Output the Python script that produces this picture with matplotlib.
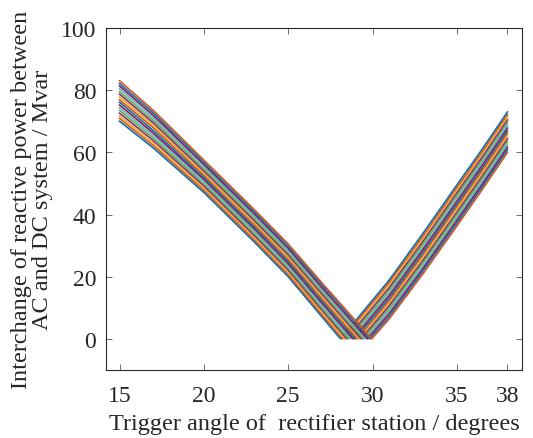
import matplotlib.pyplot as plt

# trigger angles (degrees) where the curves were read
down_angles = [15, 17, 20, 23, 25, 27]
up_angles = [31, 33, 35, 36.5, 38]

# angle where each curve reaches zero
zero_angle = [28.10, 28.22, 28.35, 28.47, 28.59, 28.72, 28.84, 28.96,
              29.09, 29.21, 29.33, 29.46, 29.58, 29.70, 29.83, 29.95]

# reactive power (Mvar) of the 16 curves at each angle
q15 = [70.0, 70.9, 71.7, 72.6, 73.5, 74.3, 75.2, 76.1, 76.9, 77.8, 78.7, 79.5, 80.4, 81.3, 82.1, 83.0]
q17 = [61.4, 62.2, 63.0, 63.8, 64.6, 65.4, 66.2, 67.0, 67.9, 68.7, 69.5, 70.3, 71.1, 71.9, 72.7, 73.5]
q20 = [47.1, 47.8, 48.5, 49.2, 49.9, 50.6, 51.3, 51.9, 52.6, 53.3, 54.0, 54.7, 55.4, 56.1, 56.8, 57.5]
q23 = [31.1, 31.8, 32.5, 33.2, 33.9, 34.6, 35.3, 35.9, 36.6, 37.3, 38.0, 38.7, 39.4, 40.1, 40.8, 41.5]
q25 = [20.0, 20.7, 21.4, 22.1, 22.8, 23.5, 24.2, 24.9, 25.6, 26.3, 27.0, 27.7, 28.4, 29.1, 29.8, 30.5]
q27 = [7.1, 7.8, 8.6, 9.3, 10.0, 10.7, 11.5, 12.2, 12.9, 13.6, 14.4, 15.1, 15.8, 16.5, 17.3, 18.0]
q31 = [19.0, 18.2, 17.3, 16.5, 15.6, 14.8, 14.0, 13.1, 12.3, 11.5, 10.7, 9.8, 9.0, 8.2, 7.3, 6.5]
q33 = [34.0, 33.1, 32.3, 31.4, 30.5, 29.6, 28.8, 27.9, 27.1, 26.2, 25.3, 24.5, 23.6, 22.7, 21.9, 21.0]
q35 = [49.5, 48.6, 47.7, 46.9, 46.0, 45.1, 44.2, 43.3, 42.5, 41.6, 40.7, 39.8, 38.9, 38.1, 37.2, 36.3]
q365 = [61.0, 60.1, 59.3, 58.4, 57.5, 56.7, 55.8, 54.9, 54.1, 53.2, 52.3, 51.5, 50.6, 49.7, 48.9, 48.0]
q38 = [73.0, 72.1, 71.3, 70.4, 69.5, 68.7, 67.8, 66.9, 66.1, 65.2, 64.3, 63.5, 62.6, 61.7, 60.9, 60.0]

xticks = [15, 20, 25, 30, 35, 38]
yticks = [0, 20, 40, 60, 80, 100]

colors = ['#0072BD', '#D95319', '#EDB120', '#7E2F8E', '#77AC30', '#4DBEEE', '#A2142F']

plt.rcParams['font.family'] = ['Liberation Serif', 'DejaVu Serif']

fig = plt.figure(figsize=(5.33, 4.39), dpi=100)
ax = fig.add_axes([0.199, 0.155, 0.78, 0.779])

down = [q15, q17, q20, q23, q25, q27]
up = [q31, q33, q35, q365, q38]
for i in range(len(zero_angle)):
    x = down_angles + [zero_angle[i]] + up_angles
    y = [c[i] for c in down] + [0] + [c[i] for c in up]
    ax.plot(x, y, color=colors[i % 7], lw=1.2)

ax.set_xlim(14.2, 38.85)
ax.set_ylim(-10, 100)
ax.set_xticks(xticks)
ax.set_yticks(yticks)
ax.tick_params(direction='in', top=True, right=True, length=4, width=0.6,
               color='#555555', labelsize=17, labelcolor='#262626', pad=7)
ax.tick_params(axis='x', pad=11)
for s in ax.spines.values():
    s.set_color('#262626')
    s.set_linewidth(0.8)

ax.set_xlabel('Trigger angle of  rectifier station / degrees', fontsize=17.5,
              color='#262626', labelpad=5)
ax.set_ylabel('Interchange of reactive power between\nAC and DC system / Mvar', fontsize=17.5,
              color='#262626', linespacing=0.95, labelpad=6)

fig.savefig('out.png', dpi=100)
